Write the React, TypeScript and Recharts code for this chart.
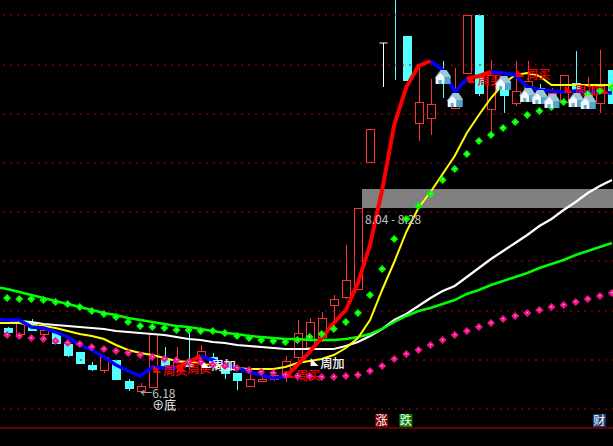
import { Bar, ComposedChart, Line, ReferenceArea, ReferenceDot, ReferenceLine, XAxis, YAxis } from "recharts";

// one extra day in front (day -1) so the averages run off the left edge
const days = Array.from({ length: 52 }, (_, i) => i - 1);

const openPrice = [null, 6.80, 6.74, 6.85, 6.74, 6.76, 6.64, 6.56, 6.43, 6.38, 6.48, 6.27, 6.17, 6.21, 6.49, 6.42, 6.47, 6.50, 6.51, 6.41, 6.35, 6.22, 6.27, 6.29, 6.31, 6.51, 6.61, 6.71, 7.03, 7.11, 7.19, 8.46, 9.65, 9.29, 9.72, 8.85, 8.90, 9.33, 9.00, 9.35, 9.93, 8.99, 9.18, 9.05, 9.11, 9.20, 9.05, 9.06, 9.25, 9.08, 9.05, 9.38];
const closePrice = [null, 6.76, 6.85, 6.78, 6.78, 6.65, 6.53, 6.45, 6.39, 6.51, 6.29, 6.20, 6.22, 6.74, 6.40, 6.46, 6.42, 6.57, 6.41, 6.35, 6.28, 6.29, 6.29, 6.33, 6.47, 6.75, 6.86, 6.90, 7.09, 7.28, 8.00, 8.79, 9.65, 9.28, 9.28, 9.06, 9.04, 9.26, 9.13, 9.93, 9.15, 9.33, 9.13, 9.17, 9.27, 9.13, 9.15, 9.33, 9.16, 9.23, 9.22, 9.05];
const highPrice = [null, 6.81, 6.85, 6.89, 6.83, 6.76, 6.64, 6.56, 6.46, 6.53, 6.48, 6.29, 6.25, 6.74, 6.61, 6.61, 6.75, 6.63, 6.55, 6.41, 6.35, 6.36, 6.33, 6.36, 6.52, 6.88, 6.90, 6.96, 7.13, 7.63, 8.00, 8.79, 9.65, 10.08, 9.72, 9.43, 9.29, 9.47, 9.40, 9.93, 9.94, 9.48, 9.28, 9.47, 9.47, 9.24, 9.20, 9.33, 9.57, 9.31, 9.58, 9.38];
const lowPrice = [null, 6.75, 6.74, 6.78, 6.70, 6.65, 6.51, 6.44, 6.37, 6.35, 6.29, 6.17, 6.16, 6.21, 6.40, 6.35, 6.38, 6.36, 6.40, 6.29, 6.18, 6.22, 6.27, 6.27, 6.26, 6.46, 6.58, 6.66, 6.80, 7.09, 7.19, 8.46, 9.21, 9.28, 9.28, 8.67, 8.73, 9.10, 9.00, 9.35, 9.12, 8.75, 8.95, 9.02, 9.08, 9.08, 8.98, 9.06, 9.08, 9.03, 8.95, 9.05];

const greenAvg = [7.21, 7.19, 7.16, 7.13, 7.10, 7.07, 7.04, 7.01, 6.98, 6.95, 6.93, 6.90, 6.88, 6.86, 6.84, 6.82, 6.81, 6.79, 6.77, 6.75, 6.74, 6.72, 6.71, 6.70, 6.69, 6.69, 6.68, 6.68, 6.68, 6.69, 6.71, 6.74, 6.79, 6.86, 6.92, 6.97, 7.00, 7.04, 7.08, 7.14, 7.18, 7.23, 7.27, 7.31, 7.35, 7.40, 7.44, 7.48, 7.53, 7.57, 7.61, 7.65];
const whiteAvg = [6.89, 6.88, 6.87, 6.86, 6.84, 6.83, 6.82, 6.81, 6.80, 6.79, 6.77, 6.76, 6.75, 6.74, 6.73, 6.71, 6.69, 6.68, 6.66, 6.65, 6.63, 6.62, 6.61, 6.60, 6.59, 6.59, 6.59, 6.59, 6.59, 6.62, 6.66, 6.72, 6.79, 6.88, 6.94, 7.02, 7.10, 7.17, 7.22, 7.31, 7.40, 7.49, 7.57, 7.65, 7.73, 7.82, 7.89, 7.98, 8.06, 8.15, 8.22, 8.28];
const yellowAvg = [6.85, 6.85, 6.85, 6.83, 6.82, 6.80, 6.77, 6.74, 6.72, 6.69, 6.63, 6.58, 6.55, 6.53, 6.50, 6.47, 6.46, 6.45, 6.43, 6.41, 6.40, 6.39, 6.39, 6.39, 6.41, 6.45, 6.47, 6.49, 6.53, 6.60, 6.70, 6.88, 7.18, 7.46, 7.76, 8.00, 8.16, 8.34, 8.52, 8.75, 8.93, 9.10, 9.24, 9.33, 9.35, 9.32, 9.23, 9.23, 9.23, 9.23, 9.23, 9.23];
const zigLine = [6.89, 6.88, 6.88, 6.81, 6.80, 6.76, 6.71, 6.63, 6.58, 6.51, 6.43, 6.37, 6.32, 6.41, 6.40, 6.40, 6.46, 6.52, 6.48, 6.43, 6.40, 6.36, 6.33, 6.30, 6.31, 6.43, 6.56, 6.70, 6.85, 6.98, 7.25, 7.63, 8.18, 8.83, 9.21, 9.42, 9.47, 9.38, 9.16, 9.29, 9.32, 9.36, 9.35, 9.33, 9.21, 9.18, 9.17, 9.16, 9.17, 9.16, 9.16, 9.15];
const redSpans = [[14, 16], [23, 35], [38, 40]]; // days where the zig line turns red

const pinkDots = [6.74, 6.73, 6.72, 6.70, 6.69, 6.67, 6.65, 6.64, 6.61, 6.59, 6.57, 6.55, 6.53, 6.51, 6.49, 6.48, 6.46, 6.46, 6.43, 6.42, 6.40, 6.38, 6.36, 6.35, 6.33, 6.32, 6.32, 6.31, 6.31, 6.32, 6.33, 6.37, 6.42, 6.49, 6.54, 6.58, 6.63, 6.68, 6.73, 6.77, 6.81, 6.85, 6.89, 6.92, 6.95, 6.98, 7.01, 7.03, 7.06, 7.09, 7.12, 7.15];
const greenDots = [7.11, 7.10, 7.09, 7.09, 7.08, 7.06, 7.04, 7.01, 6.97, 6.94, 6.91, 6.86, 6.82, 6.81, 6.80, 6.78, 6.78, 6.77, 6.77, 6.75, 6.72, 6.70, 6.68, 6.67, 6.66, 6.68, 6.71, 6.74, 6.79, 6.86, 6.95, 7.13, 7.39, 7.69, 7.89, 8.02, 8.14, 8.28, 8.39, 8.54, 8.67, 8.73, 8.80, 8.86, 8.93, 8.97, 9.01, 9.06, 9.10, 9.14, 9.17, 9.20];

const houseDays = [36, 37, 41, 43, 44, 45, 47, 48];
const housePrices = [9.31, 9.08, 9.25, 9.13, 9.11, 9.07, 9.08, 9.06];

const noteDays = [12, 14, 16, 23, 25, 38, 42, 46, 49];
const notePrices = [6.35, 6.37, 6.40, 6.30, 6.42, 9.25, 9.31, 9.15, 9.14];
const noteTexts = ["周买", "周买", "周加", "周买", "周加", "周买", "周买", "周加", ""];
const noteColors = ["#ff0000", "#ff0000", "#ffffff", "#ff0000", "#ffffff", "#ff0000", "#ff0000", "#ff0000", "#ff0000"];

const gridPrices = [9.93, 9.43, 8.94, 8.45, 7.96, 7.47, 6.97, 6.48, 5.99];

const RED = "#ff3333";
const CYAN = "#54ffff";
const FONT = "'Noto Sans CJK SC', 'Liberation Sans', sans-serif";

const rows = days.map((day, i) => {
  const inRed = redSpans.some(([a, b]) => day >= a && day <= b);
  const redEdge = redSpans.some(([a, b]) => day === a || day === b);
  const n = noteDays.indexOf(day);
  const h = houseDays.indexOf(day);
  return {
    day,
    open: openPrice[i],
    close: closePrice[i],
    high: highPrice[i],
    low: lowPrice[i],
    greenAvg: greenAvg[i],
    whiteAvg: whiteAvg[i],
    yellowAvg: yellowAvg[i],
    blueZig: !inRed || redEdge ? zigLine[i] : null,
    redZig: inRed ? zigLine[i] : null,
    pink: pinkDots[i],
    greenDot: greenDots[i],
    house: h >= 0 ? housePrices[h] : null,
    note: n >= 0 ? notePrices[n] : null,
    noteText: n >= 0 ? noteTexts[n] : null,
    noteColor: n >= 0 ? noteColors[n] : null,
  };
});

function Candle(props: any) {
  const { x, y, width, height, payload } = props;
  if (payload.high == null) return <g />;
  const { open, close, high, low } = payload;
  const perUnit = height / (high - low);
  const top = y + (high - Math.max(open, close)) * perUnit;
  const bot = y + (high - Math.min(open, close)) * perUnit;
  const cx = Math.round(x + width / 2) + 0.5;
  if (close === open) {
    return (
      <g stroke="#ffffff">
        <line x1={cx} x2={cx} y1={y} y2={y + height} />
        <line x1={cx - 4} x2={cx + 4} y1={top} y2={top} />
      </g>
    );
  }
  const up = close > open;
  const color = up ? RED : CYAN;
  return (
    <g shapeRendering="crispEdges">
      <line x1={cx} x2={cx} y1={y} y2={y + height} stroke={color} />
      {up || bot - top > 2 ? (
        <rect x={cx - 4} y={top} width={8} height={bot - top} fill={up ? "#000000" : CYAN} stroke={color} />
      ) : null}
    </g>
  );
}

function Diamond({ cx, cy, color, light }: any) {
  if (cy == null) return <g key={cx} />;
  return (
    <g key={cx}>
      <polygon points={`${cx - 4},${cy} ${cx},${cy - 4} ${cx + 4},${cy} ${cx},${cy + 4}`} fill={color} />
      <rect x={cx - 0.5} y={cy - 1} width={1.2} height={1.2} fill={light} />
    </g>
  );
}

function House({ cx, cy }: any) {
  if (cy == null) return <g key={cx} />;
  return (
    <g key={cx} transform={`translate(${cx},${cy})`}>
      <polygon points="-8,1 -2,-7 4,-7 8,-1 8,1" fill="#9fc6d8" />
      <polygon points="-7,1 -2,-4 2,1 2,7 -7,7" fill="#f2fafc" />
      <rect x={2} y={0} width={6} height={7} fill="#4fa8cc" />
      <rect x={-4} y={3} width={3} height={4} fill="#5fb0d0" />
    </g>
  );
}

function Note({ cx, cy, payload }: any) {
  if (cy == null) return <g key={cx} />;
  return (
    <g key={cx}>
      <polygon points={`${cx + 1},${cy - 8} ${cx + 1},${cy} ${cx + 9},${cy}`} fill={payload.noteColor} />
      {payload.noteText ? (
        <text x={cx + 11} y={cy + 2} fontSize={12} fontFamily={FONT} fill={payload.noteColor} stroke={payload.noteColor} strokeWidth={0.25}>
          {payload.noteText}
        </text>
      ) : null}
    </g>
  );
}

function Chip({ cx, cy, text, bg }: any) {
  return (
    <g>
      <rect x={cx - 7} y={cy - 6.5} width={13} height={13} fill={bg} />
      <text x={cx - 0.5} y={cy + 4.5} textAnchor="middle" fontSize={12} fontFamily={FONT} fill="#ffffff">
        {text}
      </text>
    </g>
  );
}

export default function App() {
  return (
    <div style={{ position: "fixed", left: 0, top: 0, width: 613, height: 446, overflow: "hidden", background: "#000000" }}>
      <div style={{ position: "absolute", left: -11, top: 0 }}>
        <ComposedChart width={629} height={446} data={rows} margin={{ top: 0, right: 0, bottom: 0, left: 0 }} barCategoryGap={0}>
          <XAxis dataKey="day" hide />
          <YAxis hide type="number" domain={[5.62, 10.08]} allowDataOverflow />
          {gridPrices.map((p) => (
            <ReferenceLine key={p} y={p} stroke="#b00000" strokeDasharray="2 5" />
          ))}
          <ReferenceLine y={5.8} stroke="#c80000" />
          <ReferenceArea
            x1={30}
            x2={50}
            y1={8.0}
            y2={8.19}
            shape={(p: any) => <rect x={p.x - 2} y={p.y} width={p.width + 10} height={p.height} fill="#808080" />}
          />
          <Bar dataKey={(d: any) => (d.high == null ? null : [d.low, d.high])} barSize={9} shape={Candle} isAnimationActive={false} />
          <Line dataKey="whiteAvg" stroke="#ffffff" strokeWidth={2.2} dot={false} isAnimationActive={false} />
          <Line dataKey="greenAvg" stroke="#00ff00" strokeWidth={2.5} dot={false} isAnimationActive={false} />
          <Line dataKey="yellowAvg" stroke="#ffff00" strokeWidth={2} dot={false} isAnimationActive={false} />
          <Line dataKey="blueZig" stroke="#0000ff" strokeWidth={3.5} dot={false} isAnimationActive={false} />
          <Line dataKey="redZig" stroke="#ff0000" strokeWidth={4} dot={false} isAnimationActive={false} />
          <Line
            dataKey="note"
            stroke="none"
            dot={(p: any) => <Note {...p} key={p.index} />}
            isAnimationActive={false}
          />
          <Line
            dataKey="greenDot"
            stroke="none"
            dot={(p: any) => <Diamond {...p} key={p.index} color="#00ff00" light="#c8ffc8" />}
            isAnimationActive={false}
          />
          <Line
            dataKey="pink"
            stroke="none"
            dot={(p: any) => <Diamond {...p} key={p.index} color="#f0148c" light="#ffc8e0" />}
            isAnimationActive={false}
          />
          <Line
            dataKey="house"
            stroke="none"
            dot={(p: any) => <House {...p} key={p.index} />}
            isAnimationActive={false}
          />
          <ReferenceDot
            x={11}
            y={6.18}
            shape={(p: any) => (
              <text x={p.cx} y={p.cy + 8} fontSize={12} fontFamily={FONT} fill="#c0c0c0">
                ←6.18
              </text>
            )}
          />
          <ReferenceDot
            x={12}
            y={5.98}
            shape={(p: any) => (
              <text x={p.cx} y={p.cy} fontSize={12} fontFamily={FONT} fill="#ffffff">
                ⊕底
              </text>
            )}
          />
          <ReferenceDot
            x={30}
            y={7.84}
            shape={(p: any) => (
              <text x={p.cx - 5} y={p.cy} fontSize={12} fontFamily={FONT} fill="#c0c0c0">
                8.04 - 8.28
              </text>
            )}
          />
          <ReferenceDot x={31} y={5.875} shape={(p: any) => <Chip {...p} text="涨" bg="#800000" />} />
          <ReferenceDot x={33} y={5.875} shape={(p: any) => <Chip {...p} text="跌" bg="#008000" />} />
          <ReferenceDot x={49} y={5.875} shape={(p: any) => <Chip {...p} text="财" bg="#1a3f7a" />} />
        </ComposedChart>
      </div>
    </div>
  );
}
